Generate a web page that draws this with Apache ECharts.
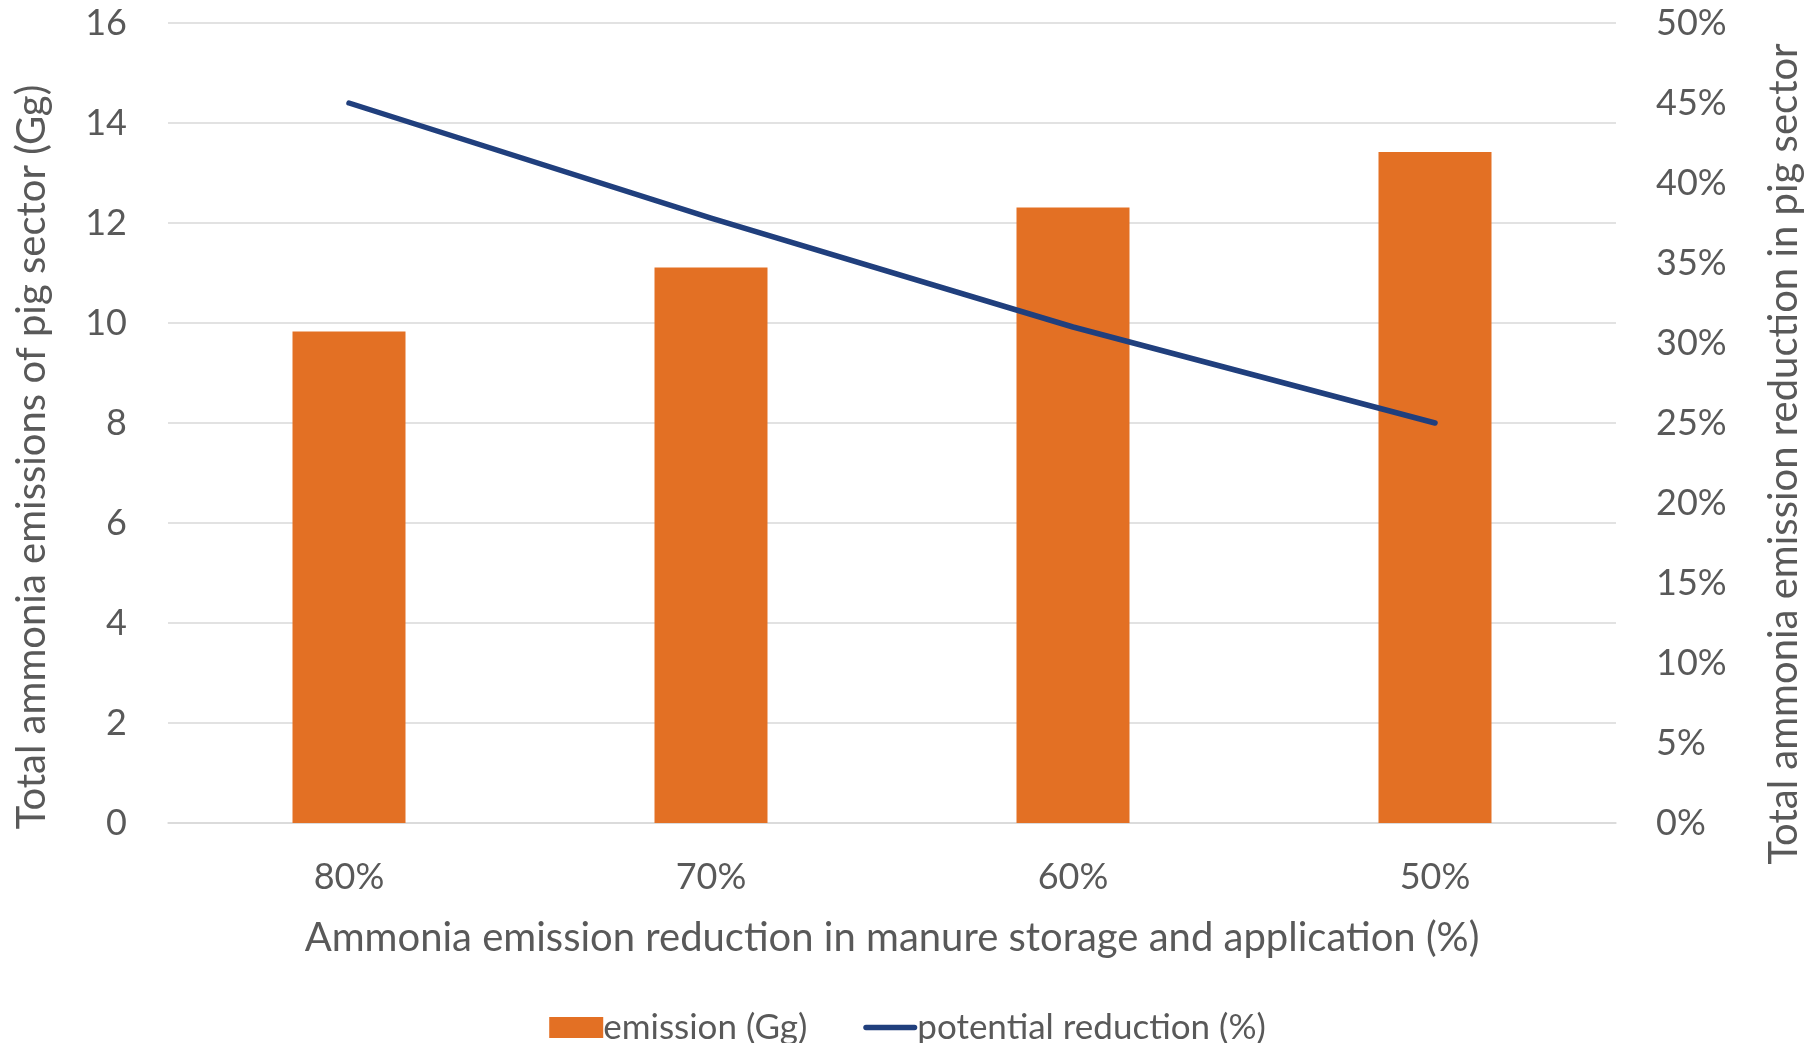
<!DOCTYPE html>
<html>
<head>
<meta charset="utf-8">
<title>Pig sector ammonia emissions</title>
<script src="https://cdn.jsdelivr.net/npm/echarts@6/dist/echarts.min.js"></script>
<style>
  html, body { margin: 0; padding: 0; background: #ffffff; }
  #chart { width: 1815px; height: 1043px; }
</style>
</head>
<body>
<div id="chart"></div>
<script>
// Reduction applied in manure storage and application (category axis)
const categories = ['80%', '70%', '60%', '50%'];
// Total ammonia emissions of the pig sector, Gg
const emission = [9.83, 11.11, 12.31, 13.42];
// Resulting potential reduction in the pig sector, %
const potentialReduction = [45.0, 37.8, 31.0, 25.0];

const textColor = '#595959';
const fontFamily = 'Lato, Carlito, Calibri, sans-serif';
const barColor = '#e37024';
const lineColor = '#203f7d';

const chart = echarts.init(document.getElementById('chart'), null, { renderer: 'canvas' });

chart.setOption({
  backgroundColor: '#ffffff',
  animation: false,
  textStyle: { fontFamily: fontFamily, color: textColor },
  grid: { left: 168, right: 199, top: 23, bottom: 220 },
  legend: {
    top: 1005,
    left: 'center',
    itemGap: 56,
    itemWidth: 54,
    itemHeight: 21,
    textStyle: { fontSize: 35, color: textColor, fontFamily: fontFamily, padding: [0, 0, 0, -5] },
    data: [
      { name: 'emission (Gg)', icon: 'rect' },
      // thin rounded bar used as the line key
      { name: 'potential reduction (%)', icon: 'path://M2.5,0 H51.5 A2.5,2.5 0 0 1 51.5,5.5 H2.5 A2.5,2.5 0 0 1 2.5,0 Z' }
    ]
  },
  xAxis: {
    type: 'category',
    data: categories,
    name: 'Ammonia emission reduction in manure storage and application (%)',
    nameLocation: 'middle',
    nameGap: 95,
    nameTextStyle: { fontSize: 40, color: textColor, fontFamily: fontFamily },
    axisLine: { show: true, lineStyle: { color: '#d9d9d9', width: 1.5 } },
    axisTick: { show: false },
    axisLabel: { fontSize: 36, color: textColor, margin: 36, fontFamily: fontFamily }
  },
  yAxis: [
    {
      type: 'value',
      min: 0,
      max: 16,
      interval: 2,
      name: 'Total ammonia emissions of pig sector (Gg)',
      nameLocation: 'middle',
      nameGap: 116,
      nameRotate: 90,
      nameTextStyle: { fontSize: 40, color: textColor, fontFamily: fontFamily, padding: [0, 68, 0, 0] },
      axisLine: { show: false },
      axisTick: { show: false },
      axisLabel: { fontSize: 36, color: textColor, margin: 41, fontFamily: fontFamily },
      splitLine: { show: true, lineStyle: { color: '#d9d9d9', width: 1.5 } }
    },
    {
      type: 'value',
      min: 0,
      max: 50,
      interval: 5,
      name: 'Total ammonia emission reduction in pig sector',
      nameLocation: 'middle',
      nameGap: 148,
      nameRotate: 90,
      nameTextStyle: { fontSize: 40, color: textColor, fontFamily: fontFamily, padding: [0, 62, 0, 0] },
      axisLine: { show: false },
      axisTick: { show: false },
      axisLabel: { fontSize: 36, color: textColor, margin: 40, fontFamily: fontFamily, formatter: '{value}%' },
      splitLine: { show: false }
    }
  ],
  series: [
    {
      name: 'emission (Gg)',
      type: 'bar',
      yAxisIndex: 0,
      data: emission,
      barWidth: 113,
      itemStyle: { color: barColor }
    },
    {
      name: 'potential reduction (%)',
      type: 'line',
      yAxisIndex: 1,
      data: potentialReduction,
      symbol: 'none',
      lineStyle: { color: lineColor, width: 5.5, cap: 'round', join: 'round' },
      itemStyle: { color: lineColor }
    }
  ]
});
</script>
</body>
</html>
